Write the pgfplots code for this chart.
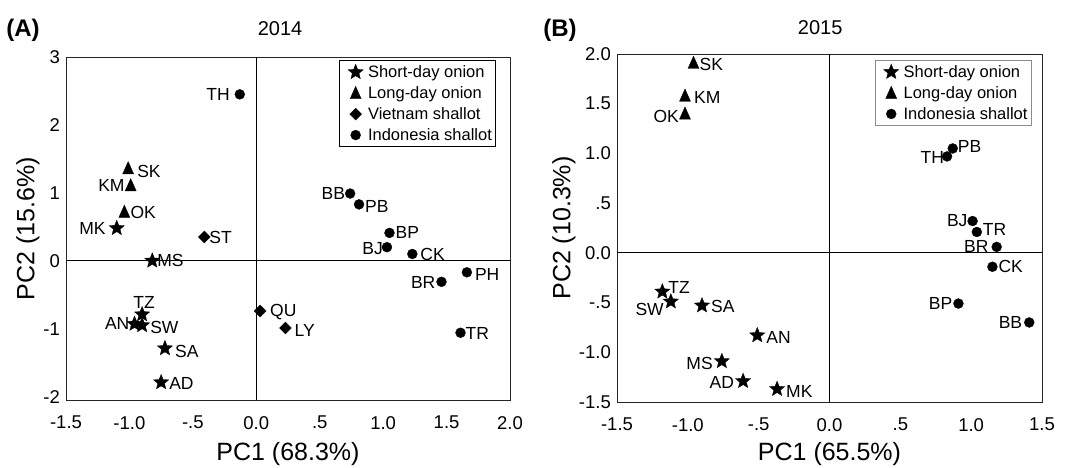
\documentclass[border=0pt]{standalone}
\usepackage{fontspec}
\setmainfont{Liberation Sans}
\usepackage{pgfplots}
\pgfplotsset{compat=1.18}

\pgfdeclareplotmark{fstar}{%
  \pgfpathmoveto{\pgfpointpolar{90}{\pgfplotmarksize}}%
  \pgfpathlineto{\pgfpointpolar{126}{0.44\pgfplotmarksize}}%
  \pgfpathlineto{\pgfpointpolar{162}{\pgfplotmarksize}}%
  \pgfpathlineto{\pgfpointpolar{198}{0.44\pgfplotmarksize}}%
  \pgfpathlineto{\pgfpointpolar{234}{\pgfplotmarksize}}%
  \pgfpathlineto{\pgfpointpolar{270}{0.44\pgfplotmarksize}}%
  \pgfpathlineto{\pgfpointpolar{306}{\pgfplotmarksize}}%
  \pgfpathlineto{\pgfpointpolar{342}{0.44\pgfplotmarksize}}%
  \pgfpathlineto{\pgfpointpolar{18}{\pgfplotmarksize}}%
  \pgfpathlineto{\pgfpointpolar{54}{0.44\pgfplotmarksize}}%
  \pgfpathclose
  \pgfusepathqfillstroke}
\pgfdeclareplotmark{ftri}{%
  \pgfpathmoveto{\pgfqpoint{0pt}{1.05\pgfplotmarksize}}%
  \pgfpathlineto{\pgfqpoint{-0.85\pgfplotmarksize}{-0.85\pgfplotmarksize}}%
  \pgfpathlineto{\pgfqpoint{0.85\pgfplotmarksize}{-0.85\pgfplotmarksize}}%
  \pgfpathclose
  \pgfusepathqfillstroke}
\pgfdeclareplotmark{fdiam}{%
  \pgfpathmoveto{\pgfqpoint{0pt}{\pgfplotmarksize}}%
  \pgfpathlineto{\pgfqpoint{\pgfplotmarksize}{0pt}}%
  \pgfpathlineto{\pgfqpoint{0pt}{-\pgfplotmarksize}}%
  \pgfpathlineto{\pgfqpoint{-\pgfplotmarksize}{0pt}}%
  \pgfpathclose
  \pgfusepathqfillstroke}

\pgfplotsset{
  pca/.style={
    scale only axis, clip=false,
    axis line style={line width=0.9pt, black!85},
    major tick length=0pt,
    tick label style={font=\fontsize{18.5}{21}\selectfont, inner sep=0pt},
    xticklabel style={yshift=-16pt},
    yticklabel style={xshift=-6pt},
    label style={font=\fontsize{25}{29}\selectfont},
    title style={font=\fontsize{20}{24}\selectfont, anchor=center, yshift=-6pt},
    legend cell align=left,
    legend image code/.code={%
      \path (-14pt,0pt) (10pt,0pt);
      \draw[##1] plot coordinates {(0pt,0pt)};},
    legend style={font=\fontsize{16.5}{19.5}\selectfont, line width=0.8pt, row sep=3.5pt, inner xsep=1.5pt, inner ysep=3pt},
  },
  lab/.style={
    only marks, black, mark options={fill=black, draw=black, line width=0.3pt},
    nodes near coords, point meta=explicit symbolic,
    visualization depends on={value \thisrow{a}\as\la},
    visualization depends on={value \thisrow{dx}\as\ldx},
    visualization depends on={value \thisrow{dy}\as\ldy},
    every node near coord/.append style={anchor=\la, xshift=\ldx pt, yshift=\ldy pt, inner sep=0pt, font=\fontsize{17.5}{20}\selectfont, black},
  },
}

\begin{document}
\begin{tikzpicture}
\useasboundingbox (0,0) rectangle (1070pt,468pt);
\node[font=\fontsize{24}{28}\selectfont\bfseries] at (23pt,438pt) {(A)};
\node[font=\fontsize{24}{28}\selectfont\bfseries] at (560pt,438pt) {(B)};

% ---------------- Panel A: 2014 ----------------
\begin{axis}[pca,
  at={(66pt,68pt)}, anchor=south west,
  width=444pt, height=343pt,
  xmin=-1.5, xmax=2.0, ymin=-2.05, ymax=3,
  xtick={-1.5,-1,-0.5,0,0.5,1,1.5,2},
  xticklabels={-1.5,-1.0,-.5,0.0,.5,1.0,1.5,2.0},
  ytick={-2,-1,0,1,2,3},
  yticklabels={-2,-1,0,1,2,3},
  title={2014},
  title style={at={(axis description cs:0.482,1.0816)}},
  xlabel={PC1 (68.3\%)},
  ylabel={PC2 (15.6\%)},
  xlabel style={at={(axis description cs:0.5,-0.1574)}, anchor=center},
  ylabel style={at={(axis description cs:-0.0856,0.5)}, anchor=center},
  legend style={at={(0.968,0.991)}, anchor=north east, draw=black},
]
\draw[line width=0.8pt] (axis cs:0,-2.05) -- (axis cs:0,3);
\draw[line width=0.8pt] (axis cs:-1.5,0) -- (axis cs:2,0);
\addplot[lab, mark=fstar, mark size=8pt] table[x=x, y=y, meta=lab] {
x y lab a dx dy
-1.10 0.48 MK east -11 0
-0.82 0.00 MS west 5 0
-0.90 -0.79 TZ south 2 6
-0.96 -0.93 AN east -5 0
-0.90 -0.95 SW west 8 -2
-0.72 -1.29 SA west 10 -3
-0.75 -1.79 AD west 8 -1
};
\addlegendentry{Short-day onion}
\addplot[lab, mark=ftri, mark size=6.5pt] table[x=x, y=y, meta=lab] {
x y lab a dx dy
-1.01 1.36 SK west 9 -3
-0.99 1.11 KM east -6 0
-1.04 0.72 OK west 6 -1
};
\addlegendentry{Long-day onion}
\addplot[lab, mark=fdiam, mark size=6pt] table[x=x, y=y, meta=lab] {
x y lab a dx dy
-0.41 0.35 ST west 5 0
0.03 -0.74 QU west 10 -1
0.23 -0.99 LY west 9 -2
};
\addlegendentry{Vietnam shallot}
\addplot[lab, mark=*, mark size=5pt] table[x=x, y=y, meta=lab] {
x y lab a dx dy
-0.13 2.45 TH east -10 0
0.74 0.99 BB east -5 0
0.81 0.83 PB west 6 -2
1.05 0.41 BP west 6 0
1.03 0.20 BJ east -4 -1
1.23 0.10 CK west 8 -1
1.66 -0.17 PH west 8 -2
1.46 -0.31 BR east -6 -1
1.61 -1.06 TR west 5 -1
};
\addlegendentry{Indonesia shallot}
\end{axis}

% ---------------- Panel B: 2015 ----------------
\begin{axis}[pca,
  at={(617pt,66pt)}, anchor=south west,
  width=425pt, height=348pt,
  xmin=-1.5, xmax=1.5, ymin=-1.5, ymax=2.0,
  xtick={-1.5,-1,-0.5,0,0.5,1,1.5},
  xticklabels={-1.5,-1.0,-.5,0.0,.5,1.0,1.5},
  ytick={-1.5,-1,-0.5,0,0.5,1,1.5,2},
  yticklabels={-1.5,-1.0,-.5,0.0,.5,1.0,1.5,2.0},
  title={2015},
  title style={at={(axis description cs:0.478,1.0747)}},
  xlabel={PC1 (65.5\%)},
  ylabel={PC2 (10.3\%)},
  xlabel style={at={(axis description cs:0.5,-0.149)}, anchor=center},
  ylabel style={at={(axis description cs:-0.1247,0.5)}, anchor=center},
  legend style={at={(0.975,0.983)}, anchor=north east, draw=black!45},
]
\draw[line width=0.8pt] (axis cs:0,-1.5) -- (axis cs:0,2);
\draw[line width=0.8pt] (axis cs:-1.5,0) -- (axis cs:1.5,0);
\addplot[lab, mark=fstar, mark size=8pt] table[x=x, y=y, meta=lab] {
x y lab a dx dy
-1.18 -0.39 TZ west 6 4
-1.12 -0.49 SW east -7 -8
-0.90 -0.53 SA west 9 -1
-0.51 -0.83 AN west 9 -2
-0.76 -1.09 MS east -9 -2
-0.61 -1.29 AD east -9 -1
-0.37 -1.37 MK west 9 -2
};
\addlegendentry{Short-day onion}
\addplot[lab, mark=ftri, mark size=6.5pt] table[x=x, y=y, meta=lab] {
x y lab a dx dy
-0.96 1.91 SK west 6 -2
-1.02 1.58 KM west 9 -2
-1.02 1.40 OK east -6 -3
};
\addlegendentry{Long-day onion}
\addplot[lab, mark=*, mark size=5pt] table[x=x, y=y, meta=lab] {
x y lab a dx dy
0.83 0.97 TH east -3 -1
0.87 1.05 PB west 5 2
1.01 0.32 BJ east -5 0
1.04 0.21 TR west 6 2
1.18 0.06 BR east -8 0
1.15 -0.14 CK west 6 0
0.91 -0.51 BP east -6 0
1.41 -0.70 BB east -7 0
};
\addlegendentry{Indonesia shallot}
\end{axis}
\end{tikzpicture}
\end{document}
